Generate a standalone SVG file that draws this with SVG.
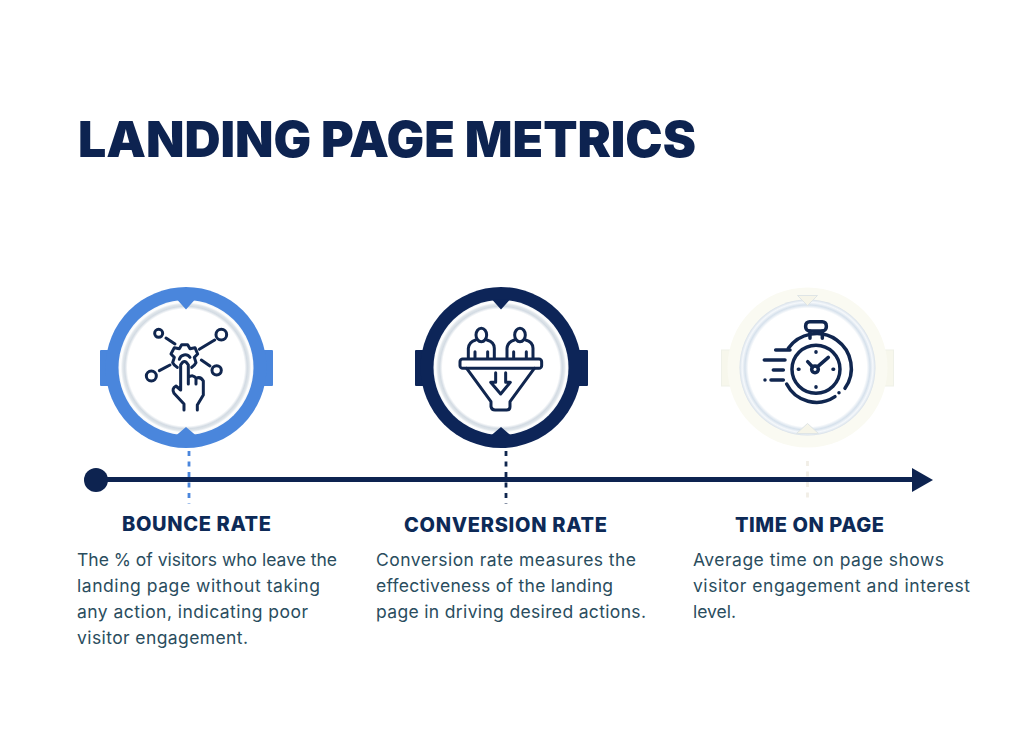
<svg xmlns="http://www.w3.org/2000/svg" width="1024" height="730" viewBox="0 0 1024 730">
<style>
.title{font:900 50px Inter,"Liberation Sans",sans-serif;fill:#0d2350}
.head{font:800 20px Inter,"Liberation Sans",sans-serif;fill:#0d2a57}
.body{font:400 17.500px Inter,"Liberation Sans",sans-serif;fill:#2a4d5e}
.ic{fill:none;stroke:#10264f;stroke-width:9;stroke-linecap:round;stroke-linejoin:round}
.ic3{stroke-width:10.500}
.ax{stroke:#0d2350;stroke-width:5;fill:none}
.dash{stroke-width:2.800;stroke-dasharray:5 5.500;fill:none}
</style>
<defs>
<radialGradient id="disc" gradientUnits="userSpaceOnUse" cx="0" cy="0" r="68">
<stop offset="0" stop-color="#fff"/><stop offset=".86" stop-color="#fff"/><stop offset=".9" stop-color="#d3dbe3"/><stop offset=".93" stop-color="#dfe5ea"/><stop offset=".96" stop-color="#fff"/><stop offset="1" stop-color="#f3f6f8"/>
</radialGradient>
<radialGradient id="disc3" gradientUnits="userSpaceOnUse" cx="0" cy="0" r="68">
<stop offset="0" stop-color="#fff"/><stop offset=".87" stop-color="#fff"/><stop offset=".92" stop-color="#d6e1ec"/><stop offset=".96" stop-color="#f5f8fb"/><stop offset=".985" stop-color="#e3eaf1"/><stop offset="1" stop-color="#d8e0e8"/>
</radialGradient>
<g id="frame">
<rect x="-86" y="-17.500" width="173" height="36" rx="1" fill="currentColor"/>
<circle r="80.500" fill="currentColor"/>
<circle r="67.500" fill="url(#disc)"/>
<path d="M-9-68H9L0-58Z M-10 68H10L0 59.500Z" fill="currentColor"/>
</g>
</defs>
<rect width="1024" height="730" fill="#fff"/>
<text class="title" x="78" y="157" textLength="618">LANDING PAGE METRICS</text>

<g id="connectors">
<path class="dash" d="M189 451V504" stroke="#4a86dc"/>
<path class="dash" d="M506 451V504" stroke="#10264f"/>
<path class="dash" d="M807.500 461V503" stroke="#f1eee6"/>
<circle cx="96" cy="480" r="12" fill="#0d2350"/>
<path class="ax" d="M100 479.500H914"/>
<path d="M912 468L933 480L912 492Z" fill="#0d2350"/>
</g>

<g id="node-bounce">
<use href="#frame" transform="translate(186 367.500)" color="#4a86dc"/>
<g class="ic" transform="translate(90 280) scale(.3333)">
<circle cx="206" cy="160" r="12"/><circle cx="394" cy="164" r="16"/><circle cx="184" cy="288" r="15"/><circle cx="380" cy="271" r="14"/>
<path d="M228 174L255 192M328 208L374 180M208 272L240 255M334 240L360 258"/>
<path d="M262 262A30 30 0 0 1 248 248L253 232L243 222L253 203L268 206L275 194H293L300 206L315 203L323 222L313 232L318 248A30 30 0 0 1 305 262"/>
<path d="M268 238A18 18 0 0 1 300 232"/>
<path d="M282 390V372L252 340Q244 326 258 318L272 330V255Q283 234 295 255V292M295 292Q310 282 318 295M318 295Q332 288 340 303V345L322 375V390M318 295V312M295 292V312"/>
</g>
<text class="head" x="122" y="531" textLength="149">BOUNCE RATE</text>
<text class="body" x="77" y="566" textLength="260">The % of visitors who leave the</text>
<text class="body" x="77" y="592" textLength="243">landing page without taking</text>
<text class="body" x="77" y="618" textLength="231">any action, indicating poor</text>
<text class="body" x="77" y="644" textLength="171">visitor engagement.</text>
</g>

<g id="node-conversion">
<use href="#frame" transform="translate(501 367.500)" color="#0d2558"/>
<g class="ic" transform="translate(405 280) scale(.3333)">
<ellipse cx="229" cy="165" rx="16" ry="20"/><ellipse cx="345" cy="165" rx="16" ry="20"/>
<path d="M190 235V205Q192 186 212 180M246 180Q268 186 268 205V235M210 215V235M248 215V235"/>
<path d="M306 235V205Q308 186 328 180M362 180Q384 186 384 205V235M326 215V235M364 215V235"/>
<rect x="165" y="237" width="245" height="28" rx="8"/>
<path d="M185 265L258 365V380Q260 390 270 390H305Q315 390 315 380V365L388 265"/>
<path d="M272 278V307H257L287 342L316 307H302V278"/>
</g>
<text class="head" x="404" y="532" textLength="203">CONVERSION RATE</text>
<text class="body" x="376" y="566" textLength="260">Conversion rate measures the</text>
<text class="body" x="376" y="592" textLength="237">effectiveness of the landing</text>
<text class="body" x="376" y="618" textLength="270">page in driving desired actions.</text>
</g>

<g id="node-time">
<g transform="translate(807.500 367.500)" color="#fafaf2">
<rect x="-86" y="-17.500" width="172" height="36" fill="#f7f7ec" stroke="#eff1e8"/>
<circle r="80" fill="currentColor"/>
<circle r="68" fill="url(#disc3)"/>
<path d="M-10-72H10L0-62Z M-11 66H11L0 56Z" fill="#f6f5e9" stroke="#dfe5e6"/>
</g>
<g class="ic ic3" transform="translate(715 280) scale(.3333)">
<rect x="272" y="125" width="62" height="28" rx="12"/>
<path d="M285 153V175M322 153V175"/>
<circle cx="303" cy="268" r="72"/>
<path d="M220 205A100 100 0 1 1 390 325M360 350A100 100 0 0 1 215 312"/>
<circle cx="300" cy="268" r="10"/>
<path d="M278 245L293 261M308 260L340 232M303 215V217M303 320V322M250 268H252M354 268H356M372 338V338"/>
<path d="M182 210H225M148 240H210M175 270H205M168 300H205M150 300V300"/>
</g>
<text class="head" x="735" y="532" textLength="149">TIME ON PAGE</text>
<text class="body" x="693" y="566" textLength="251">Average time on page shows</text>
<text class="body" x="693" y="592" textLength="277">visitor engagement and interest</text>
<text class="body" x="693" y="618" textLength="43">level.</text>
</g>
</svg>
